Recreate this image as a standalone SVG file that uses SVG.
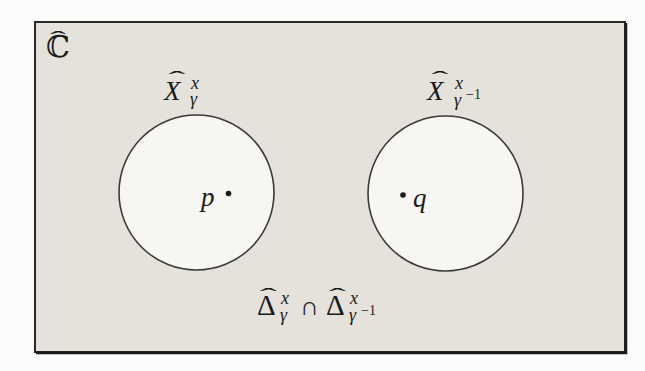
<svg xmlns="http://www.w3.org/2000/svg" width="645" height="371" viewBox="0 0 645 371">
<style>
text{font-family:'Liberation Serif','Times New Roman','DejaVu Serif',serif;fill:#1a1a1a}
.i{font-style:italic}
.set{fill:#f7f6f2;stroke:#3a3a3a;stroke-width:1.6}
.dot{fill:#1a1a1a}
</style>
<rect x="0" y="0" width="645" height="371" fill="#fbfbf9"/>
<g id="plane">
<rect x="35" y="22" width="590" height="330" fill="#e4e2db" stroke="#2a2a2a" stroke-width="2"/>
<path d="M626 23 V353 H36" fill="none" stroke="#1a1a1a" stroke-width="2.5"/>
<text x="46" y="57" font-size="30" font-family="DejaVu Serif">ℂ</text>
<text x="58" y="46" font-size="22" text-anchor="middle" transform="translate(58 0) scale(2.2 1) translate(-58 0)">ˆ</text>
</g>
<g id="Xgamma">
<circle class="set" cx="196.5" cy="192.5" r="77.5"/>
<text class="i" x="164" y="100" font-size="27">X</text>
<text x="177" y="86" font-size="22" text-anchor="middle" transform="translate(177 0) scale(2.3 1) translate(-177 0)">ˆ</text>
<text class="i" x="191" y="89" font-size="18">x</text>
<text class="i" x="190" y="105" font-size="18">γ</text>
</g>
<g id="Xgammainv">
<circle class="set" cx="445.5" cy="193.5" r="77.5"/>
<text class="i" x="427" y="100" font-size="27">X</text>
<text x="440" y="86" font-size="22" text-anchor="middle" transform="translate(440 0) scale(2.3 1) translate(-440 0)">ˆ</text>
<text class="i" x="455" y="89" font-size="18">x</text>
<text class="i" x="454" y="106" font-size="18">γ</text>
<text x="466" y="99" font-size="14">−1</text>
</g>
<g id="p">
<circle class="dot" cx="228.5" cy="193.5" r="2.8"/>
<text class="i" x="201" y="206" font-size="27">p</text>
</g>
<g id="q">
<circle class="dot" cx="403" cy="195" r="2.8"/>
<text class="i" x="413" y="207" font-size="27">q</text>
</g>
<g id="intersection">
<text x="257" y="315" font-size="29">Δ</text>
<text x="268.5" y="303" font-size="22" text-anchor="middle" transform="translate(268.5 0) scale(2.3 1) translate(-268.5 0)">ˆ</text>
<text class="i" x="281" y="304" font-size="18">x</text>
<text class="i" x="280" y="321" font-size="18">γ</text>
<text x="300" y="315" font-size="26">∩</text>
<text x="326" y="315" font-size="29">Δ</text>
<text x="337.5" y="303" font-size="22" text-anchor="middle" transform="translate(337.5 0) scale(2.3 1) translate(-337.5 0)">ˆ</text>
<text class="i" x="350" y="304" font-size="18">x</text>
<text class="i" x="349" y="321" font-size="18">γ</text>
<text x="361" y="315" font-size="14">−1</text>
</g>
</svg>
